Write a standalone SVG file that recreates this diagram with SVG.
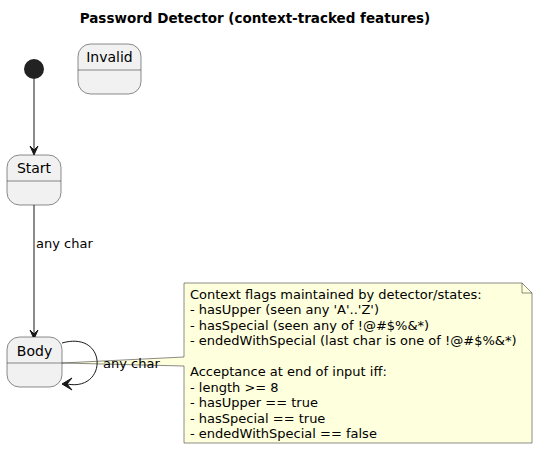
<svg xmlns="http://www.w3.org/2000/svg" width="537" height="449" viewBox="0 0 537 449">
<defs>
<style>
.st{fill:#F1F1F1;stroke:#181818;stroke-width:0.5}
.dv{stroke:#181818;stroke-width:0.5}
.lbl{font-family:"DejaVu Sans",sans-serif;font-size:14px;fill:#000}
.ed{fill:none;stroke:#181818;stroke-width:1}
.ah{fill:#181818;stroke:#181818;stroke-width:1}
.nt{font-family:"DejaVu Sans",sans-serif;font-size:13px;fill:#000}
.el{font-family:"DejaVu Sans",sans-serif;font-size:13px;fill:#000}
</style>
</defs>
<rect width="537" height="449" fill="#FFFFFF"/>
<text x="255" y="23" text-anchor="middle" font-family="DejaVu Sans, sans-serif" font-size="13.5" font-weight="bold">Password Detector (context-tracked features)</text>
<g id="note">
<path d="M184,283 L522,283 L532,293 L532,443 L184,443 L184,366 L62,363 L184,357 Z" fill="#FEFFDD" stroke="#181818" stroke-width="0.5"/>
<path d="M522,283 L522,293 L532,293" fill="none" stroke="#181818" stroke-width="0.5"/>
<text class="nt" x="190" y="298.5">Context flags maintained by detector/states:</text>
<text class="nt" x="190" y="314">- hasUpper (seen any 'A'..'Z')</text>
<text class="nt" x="190" y="329.5">- hasSpecial (seen any of !@#$%&amp;*)</text>
<text class="nt" x="190" y="345">- endedWithSpecial (last char is one of !@#$%&amp;*)</text>
<text class="nt" x="190" y="376">Acceptance at end of input iff:</text>
<text class="nt" x="190" y="391.5">- length &gt;= 8</text>
<text class="nt" x="190" y="407">- hasUpper == true</text>
<text class="nt" x="190" y="422.5">- hasSpecial == true</text>
<text class="nt" x="190" y="438">- endedWithSpecial == false</text>
</g>
<g id="connectors">
<line class="ed" x1="34" y1="79" x2="34" y2="150"/>
<polygon class="ah" points="34,155 30,146 34,150 38,146"/>
<line class="ed" x1="34" y1="205" x2="34" y2="334"/>
<polygon class="ah" points="34,339 30,330 34,334 38,330"/>
<text class="el" x="36" y="248">any char</text>
<path class="ed" d="M62,343 C108,330 108,392 67,384"/>
<polygon class="ah" points="62,384 72,378 67,384 72,390"/>
<text class="el" x="103" y="368">any char</text>
</g>
<g id="initial">
<circle cx="34" cy="69" r="10" fill="#222222"/>
</g>
<g id="Invalid">
<rect class="st" x="78" y="44" width="63" height="50" rx="12.5"/>
<line class="dv" x1="78" y1="70" x2="141" y2="70"/>
<text class="lbl" x="109.5" y="62" text-anchor="middle">Invalid</text>
</g>
<g id="Start">
<rect class="st" x="7" y="155" width="54" height="50" rx="12.5"/>
<line class="dv" x1="7" y1="181" x2="61" y2="181"/>
<text class="lbl" x="34" y="173" text-anchor="middle">Start</text>
</g>
<g id="Body">
<rect class="st" x="7" y="337" width="55" height="50" rx="12.5"/>
<line class="dv" x1="7" y1="363" x2="62" y2="363"/>
<text class="lbl" x="34.5" y="356" text-anchor="middle">Body</text>
</g>
</svg>
